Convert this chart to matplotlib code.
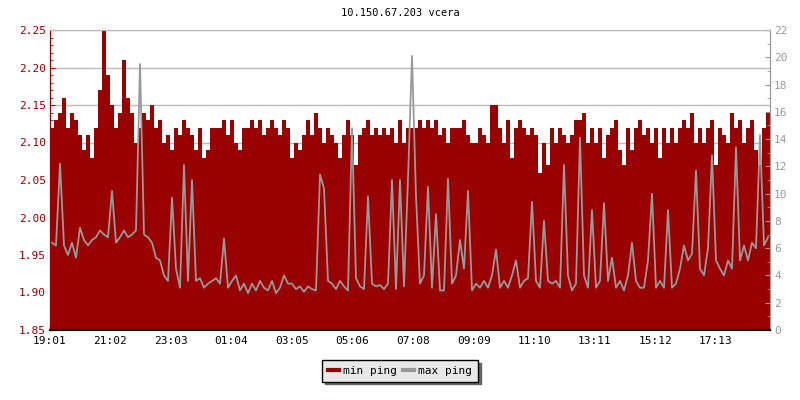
import numpy as np
import matplotlib
matplotlib.use("Agg")
import matplotlib.pyplot as plt
from matplotlib.lines import Line2D

# 24 h, one value per 8 minutes, starting 19:01
step_min = 8
tick_labels = ["19:01", "21:02", "23:03", "01:04", "03:05", "05:06",
               "07:08", "09:09", "11:10", "13:11", "15:12", "17:13"]
tick_minutes = [0, 121, 242, 363, 484, 605, 727, 848, 969, 1090, 1211, 1332]

min_ping = [
    2.12, 2.13, 2.14, 2.16, 2.12, 2.14, 2.13, 2.11, 2.09, 2.11, 2.08, 2.12, 2.17, 2.25, 2.19,
    2.15, 2.12, 2.14, 2.21, 2.16, 2.14, 2.10, 2.12, 2.14, 2.13, 2.15, 2.12, 2.13, 2.10, 2.11,
    2.09, 2.12, 2.11, 2.13, 2.12, 2.11, 2.09, 2.12, 2.08, 2.09, 2.12, 2.12, 2.12, 2.13, 2.11,
    2.13, 2.10, 2.09, 2.12, 2.12, 2.13, 2.12, 2.13, 2.11, 2.12, 2.13, 2.12, 2.11, 2.13, 2.12,
    2.08, 2.10, 2.09, 2.11, 2.13, 2.11, 2.14, 2.12, 2.10, 2.12, 2.11, 2.10, 2.08, 2.11, 2.13,
    2.11, 2.07, 2.11, 2.12, 2.13, 2.11, 2.12, 2.11, 2.12, 2.11, 2.12, 2.10, 2.13, 2.10, 2.12,
    2.12, 2.12, 2.13, 2.12, 2.13, 2.12, 2.13, 2.11, 2.12, 2.10, 2.12, 2.12, 2.12, 2.13, 2.11,
    2.10, 2.10, 2.12, 2.11, 2.10, 2.15, 2.15, 2.12, 2.10, 2.13, 2.08, 2.12, 2.13, 2.12, 2.11,
    2.12, 2.11, 2.06, 2.10, 2.07, 2.12, 2.10, 2.12, 2.11, 2.10, 2.11, 2.13, 2.13, 2.14, 2.10,
    2.12, 2.10, 2.12, 2.08, 2.11, 2.12, 2.13, 2.09, 2.07, 2.12, 2.09, 2.12, 2.13, 2.11, 2.12,
    2.10, 2.12, 2.08, 2.12, 2.10, 2.12, 2.10, 2.12, 2.13, 2.12, 2.14, 2.10, 2.12, 2.10, 2.12,
    2.13, 2.07, 2.12, 2.11, 2.10, 2.14, 2.12, 2.13, 2.10, 2.12, 2.13, 2.09, 2.07, 2.12, 2.14,
]

max_ping = [
    6.4, 6.2, 12.2, 6.2, 5.5, 6.4, 5.3, 7.5, 6.6, 6.2, 6.6, 6.8, 7.3, 7.0, 6.8,
    10.2, 6.4, 6.8, 7.3, 6.8, 7.0, 7.3, 19.5, 7.0, 6.8, 6.4, 5.3, 5.1, 4.0, 3.6,
    9.7, 4.5, 3.1, 12.1, 3.6, 11.0, 3.6, 3.8, 3.1, 3.4, 3.6, 3.8, 3.4, 6.7, 3.1,
    3.6, 4.0, 2.9, 3.4, 2.7, 3.4, 2.9, 3.6, 3.1, 2.9, 3.6, 2.7, 3.1, 4.0, 3.4,
    3.4, 3.0, 3.2, 2.8, 3.2, 3.0, 2.9, 11.4, 10.4, 3.6, 3.4, 3.0, 3.6, 3.2, 2.9,
    14.8, 3.8, 3.2, 3.0, 9.8, 3.4, 3.2, 3.3, 3.0, 3.4, 11.0, 3.0, 11.0, 3.2, 11.1,
    20.1, 9.8, 3.4, 4.0, 10.5, 3.1, 8.5, 2.9, 2.9, 11.1, 3.4, 4.0, 6.6, 4.5, 10.2,
    2.9, 3.4, 3.1, 3.6, 3.1, 4.0, 5.9, 3.1, 3.6, 3.1, 4.0, 5.1, 3.1, 3.6, 3.8,
    9.4, 3.6, 3.1, 8.0, 3.6, 3.4, 3.6, 3.1, 12.1, 4.0, 2.9, 3.4, 14.1, 4.0, 3.1,
    8.8, 3.1, 3.6, 9.3, 3.6, 5.3, 3.1, 3.6, 2.9, 4.0, 6.4, 3.6, 3.1, 3.1, 5.1,
    10.0, 3.1, 3.6, 3.1, 8.8, 3.1, 3.4, 4.5, 6.2, 5.1, 5.6, 11.7, 4.5, 4.0, 6.0,
    12.8, 5.1, 4.5, 4.0, 5.1, 4.5, 13.4, 5.1, 6.2, 5.1, 6.4, 6.0, 14.3, 6.2, 6.8,
]

RED = "#990000"
GRAY = "#999999"
MONO = "DejaVu Sans Mono"

edges = np.arange(len(min_ping) + 1) * step_min
centers = edges[:-1] + step_min / 2

fig = plt.figure(figsize=(8, 4), dpi=100)
ax = fig.add_axes([50 / 800, 70 / 400, 720 / 800, 300 / 400])
ax2 = ax.twinx()

ax.stairs(min_ping, edges, fill=True, baseline=1.85, color=RED, zorder=2)
ax2.plot(centers, max_ping, color=GRAY, linewidth=1.3)

ax.set_xlim(0, 1440)
ax.set_ylim(1.85, 2.25)
ax2.set_ylim(0, 22)

ax.set_axisbelow(True)
ax.yaxis.grid(True, color="#bbbbbb", linewidth=1)
ax.set_yticks(np.arange(1.85, 2.251, 0.05))
ax.set_yticks(np.arange(1.85, 2.251, 0.01), minor=True)
ax.set_yticklabels(["%.2f" % v for v in np.arange(1.85, 2.251, 0.05)])
ax2.set_yticks(np.arange(0, 23, 2))
ax2.set_yticks(np.arange(0, 23, 1), minor=True)
ax.set_xticks(tick_minutes)
ax.set_xticklabels(tick_labels)

ax.tick_params(axis="y", which="both", direction="in", colors=RED, labelsize=8, pad=3)
ax.tick_params(axis="y", which="major", length=3.6)
ax.tick_params(axis="y", which="minor", length=2.2)
ax2.tick_params(axis="y", which="both", direction="in", colors=GRAY, labelsize=8, pad=3)
ax2.tick_params(axis="y", which="major", length=3.6)
ax2.tick_params(axis="y", which="minor", length=2.2)
ax.tick_params(axis="x", direction="in", length=3.6, width=1, labelsize=8, pad=4, colors="black")

for lab in ax.get_xticklabels() + ax.get_yticklabels() + ax2.get_yticklabels():
    lab.set_family(MONO)

for a in (ax, ax2):
    a.spines["top"].set_color("#bbbbbb")
    a.spines["left"].set_color(RED)
    a.spines["right"].set_color(GRAY)
    a.spines["bottom"].set_color("black")
    a.spines["bottom"].set_linewidth(1.5)

fig.text(0.5, 1 - 13 / 400, "10.150.67.203 vcera", ha="center", va="center",
         family=MONO, fontsize=7.5)

handles = [Line2D([], [], color=RED, linewidth=3), Line2D([], [], color=GRAY, linewidth=3)]
leg = fig.legend(handles, ["min ping", "max ping"], loc="center",
                 bbox_to_anchor=(400 / 800, 1 - 371 / 400), ncol=2,
                 prop={"family": MONO, "size": 8}, frameon=True, fancybox=False,
                 shadow={"color": "#666666", "alpha": 1},
                 handlelength=1.0, handletextpad=0.4, columnspacing=0.5,
                 borderpad=0.5, borderaxespad=0)
leg.get_frame().set_facecolor("#e8e8e8")
leg.get_frame().set_edgecolor("black")
leg.get_frame().set_alpha(1)
leg.get_frame().set_linewidth(1)

fig.savefig("out.png", dpi=100, facecolor="white")
